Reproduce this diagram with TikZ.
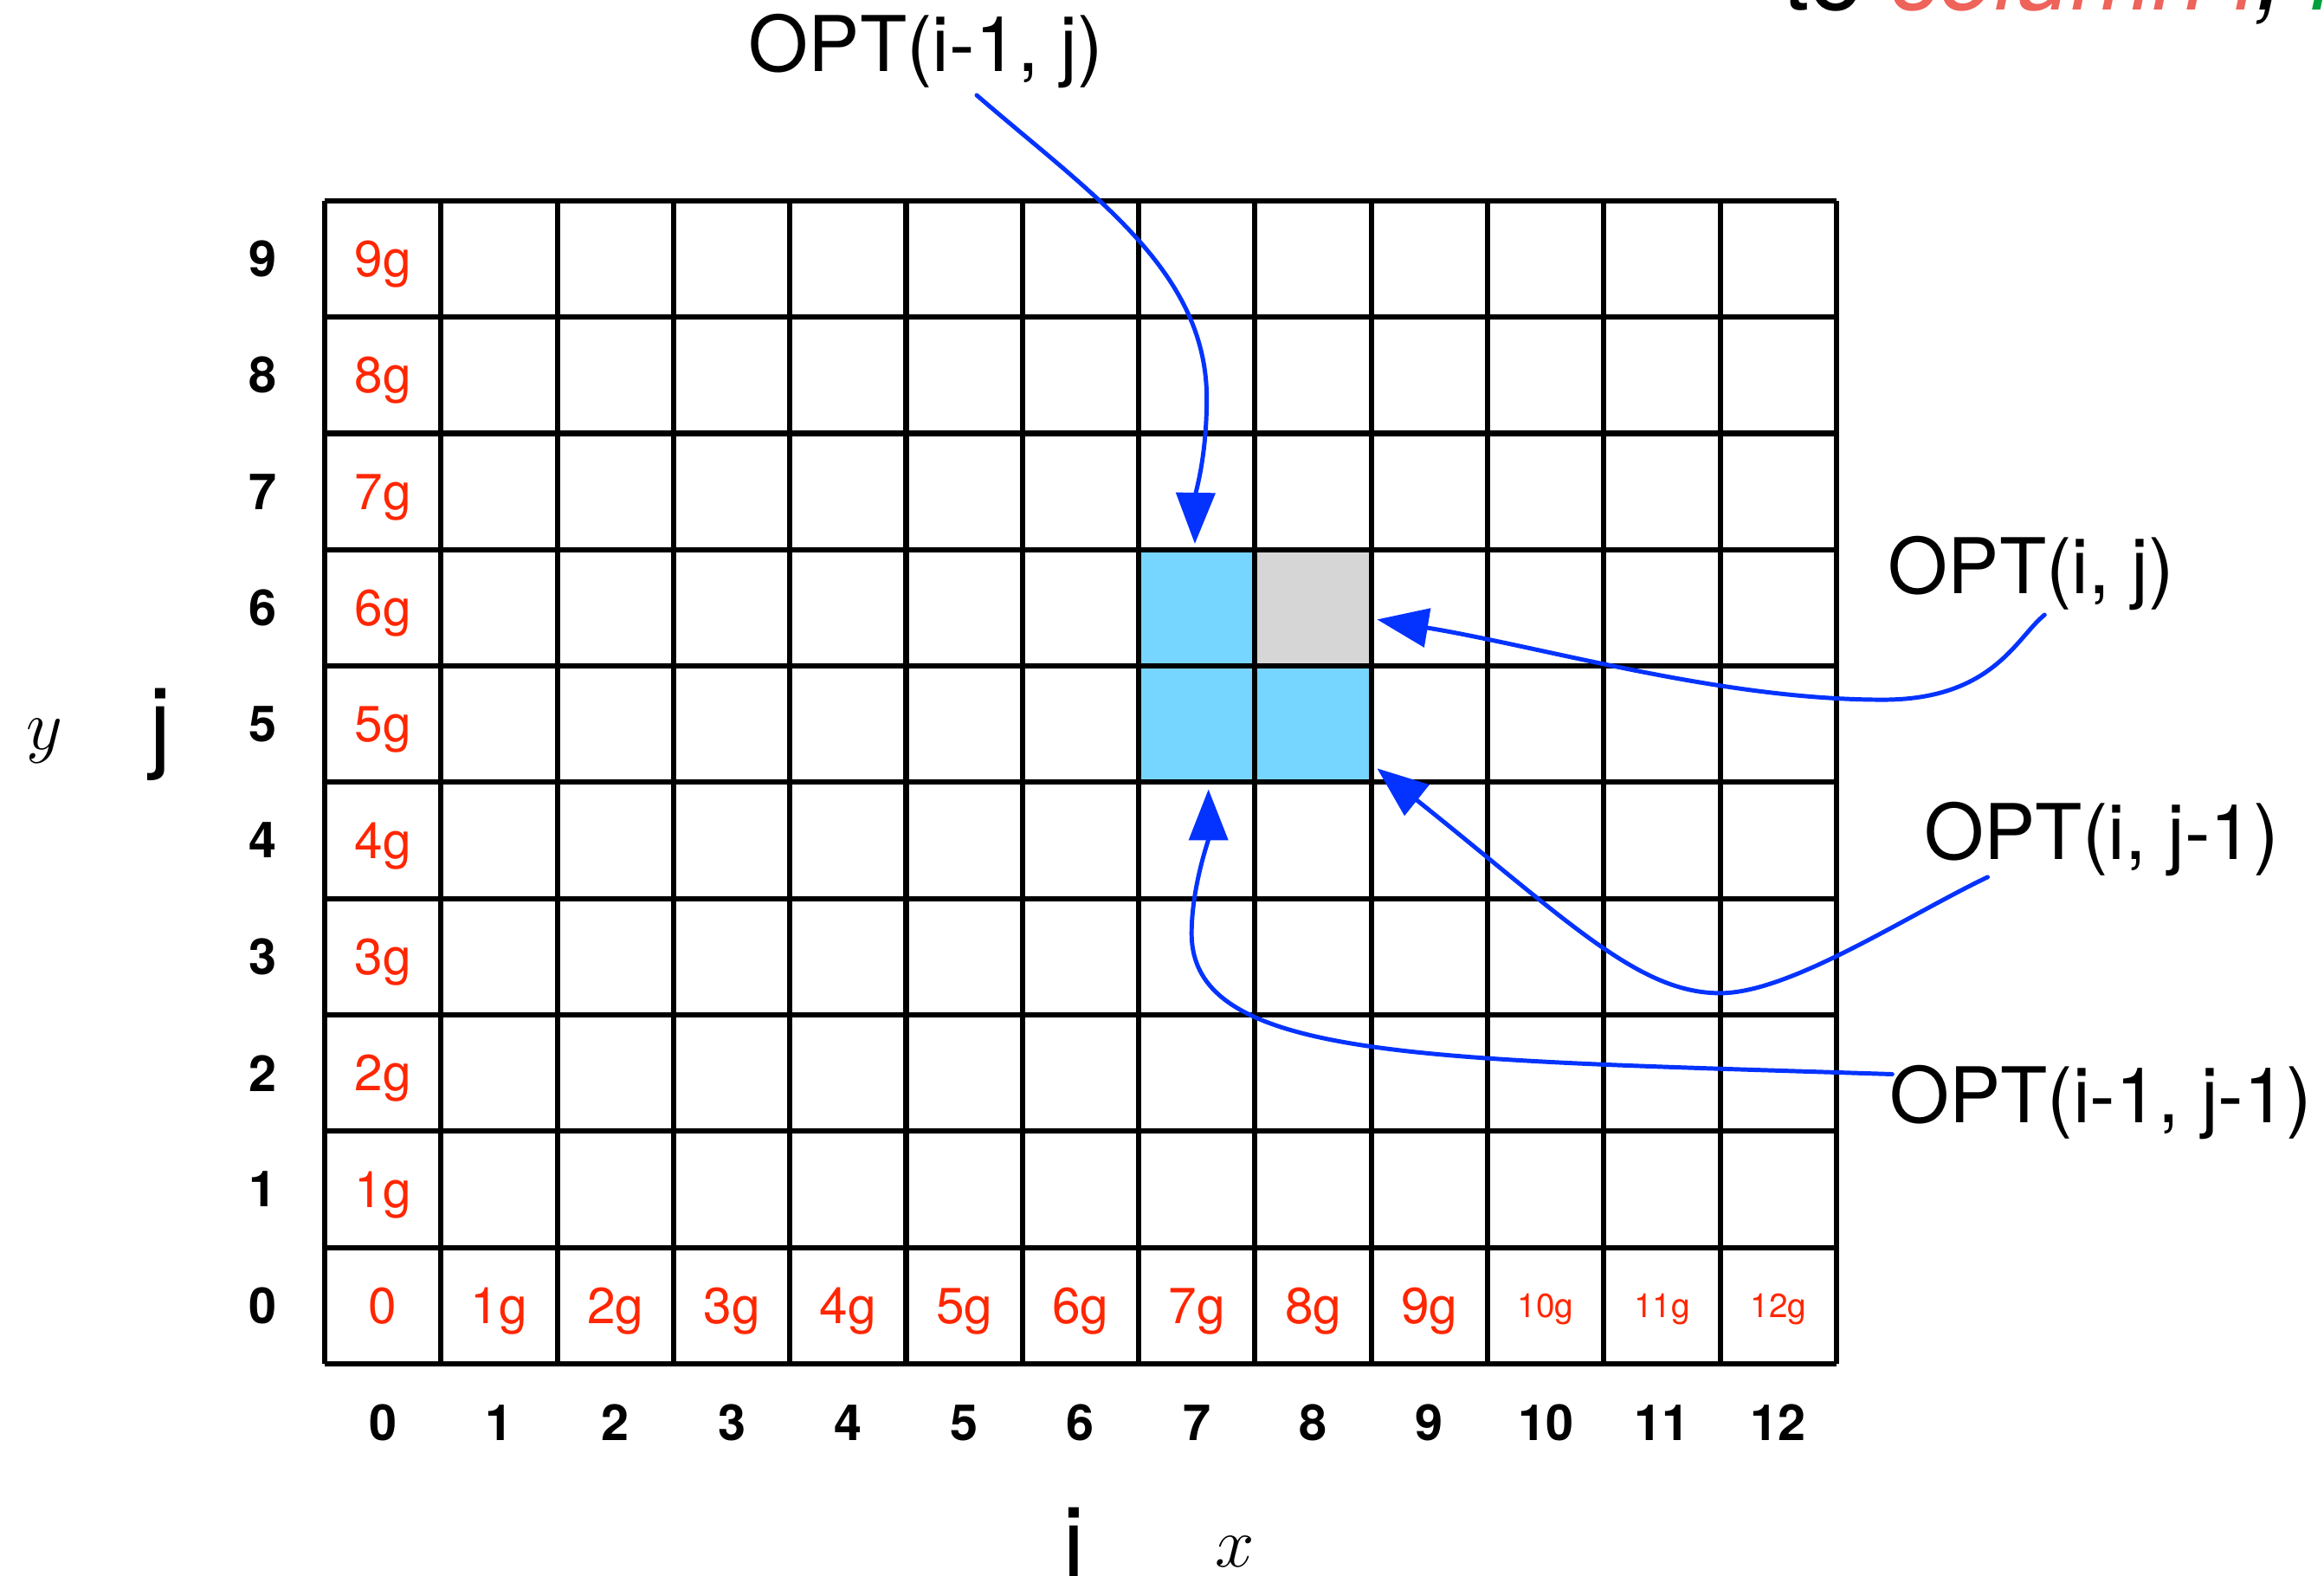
\documentclass[tikz,border=0pt]{standalone}
\usepackage{fontspec}
\setmainfont{TeX Gyre Heros}
\usetikzlibrary{arrows.meta}
\definecolor{cellred}{RGB}{255,38,0}
\definecolor{arrowblue}{RGB}{4,51,255}
\definecolor{skyblue}{RGB}{118,214,255}
\definecolor{cellgray}{RGB}{214,214,214}
\definecolor{salmon}{RGB}{238,99,90}
\definecolor{capgreen}{RGB}{0,160,60}
\begin{document}
\begin{tikzpicture}[x=1cm,y=1cm,
  gridline/.style={line width=1.3pt, black},
  vallabel/.style={text=cellred, font=\fontsize{12.4}{14}\selectfont, inner sep=0, anchor=base},
  smallval/.style={text=cellred, font=\fontsize{8.2}{10}\selectfont, inner sep=0, anchor=base},
  idxlabel/.style={font=\fontsize{12.2}{14}\selectfont\bfseries, inner sep=0},
  optlabel/.style={font=\fontsize{18.8}{22}\selectfont, inner sep=0, anchor=base west},
  axislabel/.style={font=\fontsize{24.4}{28}\selectfont, inner sep=0, anchor=base},
  mathlabel/.style={font=\fontsize{19}{22}\selectfont, inner sep=0, anchor=base},
  deparrow/.style={arrowblue, line width=1.05pt, line cap=round, -{Triangle[length=12.5pt,width=9.5pt]}},
]
\clip (-2.792,-1.824) rectangle (17.193,11.727);

% highlighted cells
\fill[skyblue] (7,5) rectangle (8,7);
\fill[skyblue] (8,5) rectangle (9,6);
\fill[cellgray] (8,6) rectangle (9,7);
% grid
\draw[gridline] (0,0) grid (13,10);

% first column values
\foreach \r in {1,...,9} {
  \node[vallabel] (v0-\r) at (0.5,\r+0.5-0.153) {\r g};
}
\node[vallabel] (v0-0) at (0.5,0.5-0.153) {0};
\foreach \c in {1,...,9} {
  \node[vallabel] (v\c-0) at (\c+0.5,0.5-0.153) {\c g};
}
\foreach \c in {10,11,12} {
  \node[smallval] (v\c-0) at (\c+0.5,0.5-0.1) {\c g};
}

% indices
\foreach \r in {0,...,9} {
  \node[idxlabel] (row\r) at (-0.53,\r+0.5) {\r};
}
\foreach \c in {0,...,12} {
  \node[idxlabel] (col\c) at (\c+0.5,-0.506) {\c};
}

% axis labels
\node[axislabel] (jy) at (-1.41,5.20) {j};
\node[mathlabel] (ylab) at (-2.41,5.28) {$y$};
\node[axislabel] (jx) at (6.44,-1.84) {j};
\node[mathlabel] (xlab) at (7.83,-1.75) {$x$};

% OPT labels
\node[optlabel] (optA) at (3.64,11.11) {OPT(i-1, j)};
\node[optlabel] (optB) at (13.44,6.62) {OPT(i, j)};
\node[optlabel] (optC) at (13.75,4.34) {OPT(i, j-1)};
\node[optlabel] (optD) at (13.45,2.07) {OPT(i-1, j-1)};

% caption fragment at top right
\node[font=\fontsize{24}{28}\selectfont, inner sep=0, anchor=base west] (caption) at (12.53,11.64)
  {to {\color{salmon}\itshape column i}{\itshape ,} {\color{capgreen}\itshape row j}};

% connector ends
\coordinate (srcA) at (5.607,10.908);
\coordinate (tipA) at (7.483,7.051);
\coordinate (srcB) at (14.79,6.44);
\coordinate (tipB) at (9.05,6.40);
\coordinate (srcC) at (14.30,4.185);
\coordinate (tipC) at (9.05,5.12);
\coordinate (srcD) at (13.48,2.49);
\coordinate (tipD) at (7.60,4.94);

\draw[deparrow] (srcA) .. controls (6.6,10.05) and (7.585,9.4) .. (7.585,8.3)
  .. controls (7.585,7.8) and (7.49,7.5) .. (tipA);
\draw[deparrow] (srcB) .. controls (14.55,6.25) and (14.35,5.71) .. (13.4,5.71)
  .. controls (12.0,5.71) and (10.5,6.16) .. (tipB);
\draw[deparrow] (srcC) .. controls (13.6,3.85) and (12.6,3.187) .. (12.0,3.187)
  .. controls (11.3,3.187) and (10.7,3.8) .. (tipC);
\draw[deparrow] (srcD) .. controls (9.5,2.62) and (7.455,2.6) .. (7.455,3.7)
  .. controls (7.455,4.1) and (7.6,4.5) .. (tipD);
\end{tikzpicture}
\end{document}
